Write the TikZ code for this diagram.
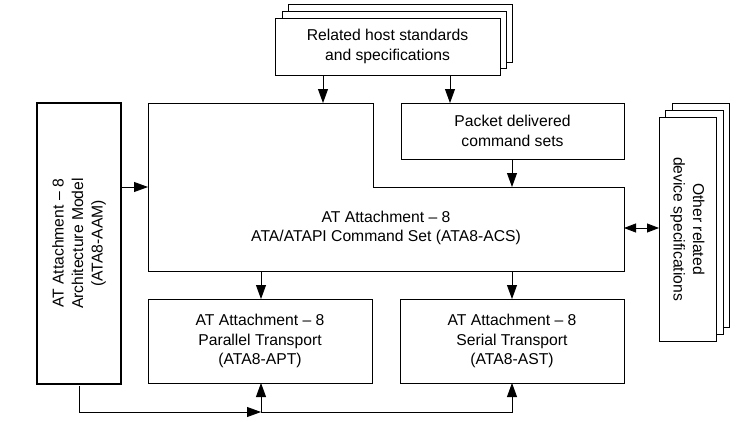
\documentclass[tikz,border=0pt]{standalone}
\usepackage{fontspec}
\setmainfont{Liberation Sans}
\usetikzlibrary{arrows.meta}
\begin{document}
\begin{tikzpicture}[x=1pt,y=-1pt,
  every node/.style={inner sep=0pt, outer sep=0pt, font=\fontsize{15.7}{19.5}\selectfont, align=center},
  box/.style={draw, line width=0.8pt, fill=white},
  arr/.style={line width=0.8pt, -{Triangle[length=14pt,width=10pt]}},
  darr/.style={line width=0.8pt, {Triangle[length=12pt,width=9pt]}-{Triangle[length=12pt,width=9pt]}}]
\useasboundingbox (0,0) rectangle (745,421);
% top stacked box
\draw[box] (288,4) rectangle (512,62);
\draw[box] (282,11) rectangle (506,68);
\draw[box] (275,18) rectangle (500,75);
\node (host) at (387.5,46.5) {Related host standards\\and specifications};
\coordinate (hostA) at (323,75);
\coordinate (hostB) at (450,75);
% right stacked box
\draw[box] (672,103) rectangle (729,327);
\draw[box] (665,110) rectangle (723,334);
\draw[box] (659,117) rectangle (716,341);
\node[rotate=-90] (other) at (687.5,229) {Other related\\device specifications};
\coordinate (otherL) at (659,228);
% AAM
\draw[line width=2.6pt] (37,103) rectangle (121,384);
\node[rotate=90] (aam) at (79,243.5) {AT Attachment – 8\\Architecture Model\\(ATA8-AAM)};
\coordinate (aamR) at (121,187);
\coordinate (aamB) at (79,385.5);
% ACS L-shape
\draw[line width=0.8pt] (148,103) -- (373,103) -- (373,187) -- (624,187) -- (624,271) -- (148,271) -- cycle;
\node (acs) at (386,228) {AT Attachment – 8\\ATA/ATAPI Command Set (ATA8-ACS)};
\coordinate (acsTL) at (323,103);
\coordinate (acsL) at (148,187);
\coordinate (acsT) at (512,187);
\coordinate (acsR) at (624,228);
\coordinate (acsB1) at (261,271);
\coordinate (acsB2) at (512,271);
% packet
\draw[box] (401,103) rectangle (624,159);
\node (pkt) at (512.5,131) {Packet delivered\\command sets};
\coordinate (pktT) at (450,103);
\coordinate (pktB) at (512,159);
% parallel / serial
\draw[box] (148,299) rectangle (372,383);
\node (apt) at (260,341) {AT Attachment – 8\\Parallel Transport\\(ATA8-APT)};
\draw[box] (400,299) rectangle (624,383);
\node (ast) at (512,341) {AT Attachment – 8\\Serial Transport\\(ATA8-AST)};
\coordinate (aptT) at (261,299);
\coordinate (aptB) at (261,383);
\coordinate (astT) at (512,299);
\coordinate (astB) at (512,383);
\coordinate (j1) at (79,412);
\coordinate (j2) at (261,412);
\coordinate (j3) at (512,412);
% connectors
\draw[arr] (hostA) -- (acsTL);
\draw[arr] (hostB) -- (pktT);
\draw[arr] (pktB) -- (acsT);
\draw[arr] (aamR) -- (acsL);
\draw[darr] (acsR) -- (otherL);
\draw[arr] (acsB1) -- (aptT);
\draw[arr] (acsB2) -- (astT);
\draw[arr] (aamB) -- (j1) -- (j2);
\draw[arr] (j2) -- (aptB);
\draw[arr] (j2) -- (j3) -- (astB);
\end{tikzpicture}
\end{document}
